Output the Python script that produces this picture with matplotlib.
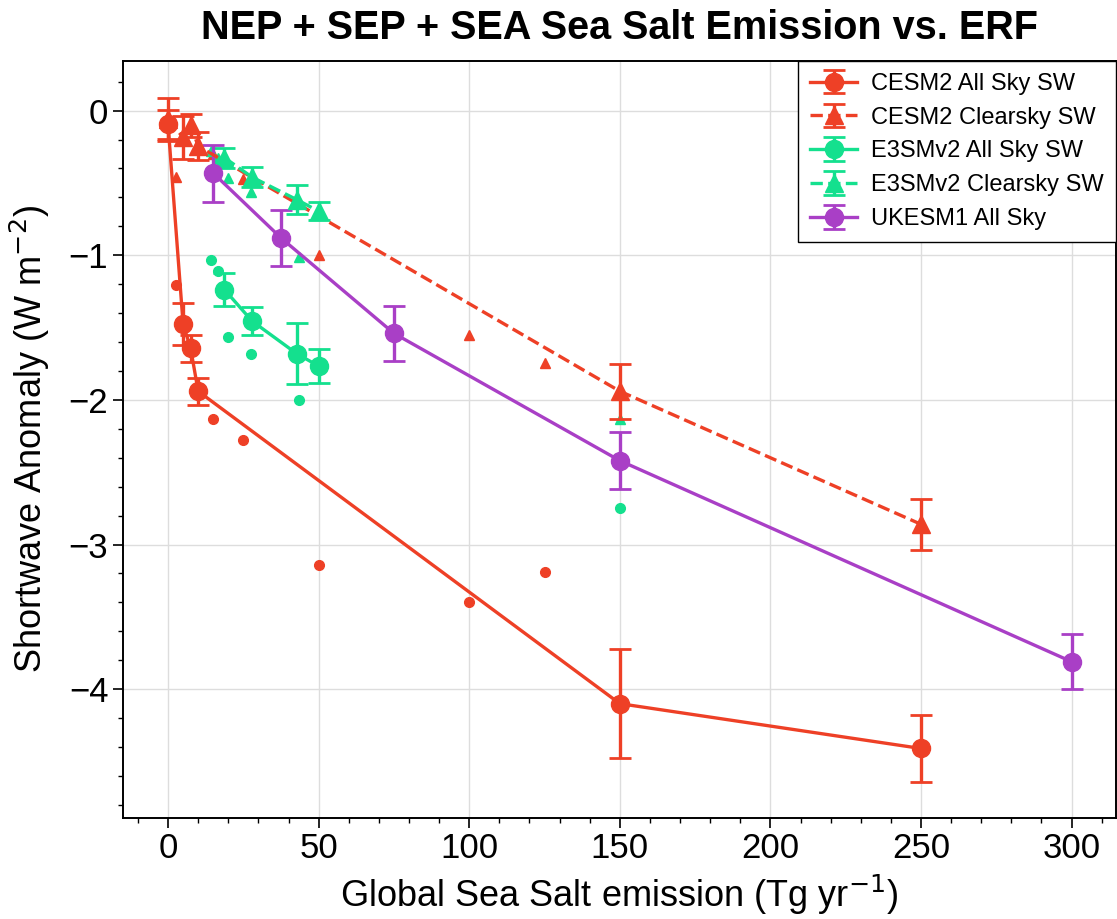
import matplotlib
matplotlib.use("Agg")
import matplotlib.pyplot as plt
from matplotlib.ticker import MultipleLocator

plt.rcParams["font.family"] = ["Liberation Sans", "DejaVu Sans"]

RED = "#EE4026"
GREEN = "#14E08E"
PURPLE = "#A93FC6"

# CESM2 ensemble means (big markers, with error bars)
cesm_x = [0, 5, 7.5, 10, 150, 250]
cesm_all = [-0.095, -1.476, -1.644, -1.94, -4.10, -4.41]
cesm_all_err = [0.10, 0.146, 0.096, 0.093, 0.376, 0.23]
cesm_clr = [-0.06, -0.185, -0.10, -0.245, -1.94, -2.86]
cesm_clr_err = [0.15, 0.15, 0.08, 0.095, 0.19, 0.175]

# CESM2 single runs (small markers)
cesm_pts_x = [2.5, 15, 25, 50, 100, 125]
cesm_pts_all = [-1.207, -2.13, -2.28, -3.14, -3.40, -3.19]
cesm_pts_clr = [-0.46, -0.30, -0.47, -1.00, -1.55, -1.745]

# E3SMv2 ensemble means
e3sm_x = [18.7, 27.9, 42.7, 50]
e3sm_all = [-1.237, -1.455, -1.68, -1.766]
e3sm_all_err = [0.116, 0.097, 0.21, 0.116]
e3sm_clr = [-0.325, -0.46, -0.615, -0.695]
e3sm_clr_err = [0.07, 0.07, 0.10, 0.06]

# E3SMv2 single runs
e3sm_pts_x = [14.2, 16.5, 20, 27.5, 43.5, 150]
e3sm_pts_all = [-1.03, -1.11, -1.563, -1.68, -2.00, -2.745]
e3sm_pts_clr = [-0.276, -0.33, -0.464, -0.563, -1.01, -2.13]

# UKESM1
uk_x = [15, 37.5, 75, 150, 300]
uk_all = [-0.432, -0.88, -1.54, -2.42, -3.81]
uk_all_err = [0.197, 0.195, 0.19, 0.195, 0.19]

fig = plt.figure(figsize=(11.17, 9.19), dpi=100)
ax = fig.add_axes([0.110, 0.110, 0.889, 0.8236])

ekw = dict(linewidth=2.4, markersize=13, capsize=8, capthick=2.0, elinewidth=2.4)

ax.errorbar(cesm_x, cesm_all, yerr=cesm_all_err, color=RED, marker="o",
            linestyle="-", label="CESM2 All Sky SW", zorder=3, **ekw)
ax.errorbar(cesm_x, cesm_clr, yerr=cesm_clr_err, color=RED, marker="^",
            linestyle="--", label="CESM2 Clearsky SW", zorder=3, **ekw)
ax.plot(cesm_pts_x, cesm_pts_all, "o", color=RED, markersize=7, zorder=2)
ax.plot(cesm_pts_x, cesm_pts_clr, "^", color=RED, markersize=7, zorder=2)

ax.errorbar(e3sm_x, e3sm_all, yerr=e3sm_all_err, color=GREEN, marker="o",
            linestyle="-", label="E3SMv2 All Sky SW", zorder=3, **ekw)
ax.errorbar(e3sm_x, e3sm_clr, yerr=e3sm_clr_err, color=GREEN, marker="^",
            linestyle="--", label="E3SMv2 Clearsky SW", zorder=3, **ekw)
ax.plot(e3sm_pts_x, e3sm_pts_all, "o", color=GREEN, markersize=7, zorder=2)
ax.plot(e3sm_pts_x, e3sm_pts_clr, "^", color=GREEN, markersize=7, zorder=2)

ax.errorbar(uk_x, uk_all, yerr=uk_all_err, color=PURPLE, marker="o",
            linestyle="-", label="UKESM1 All Sky", zorder=3, **ekw)

ax.set_xlim(-15, 314.7)
ax.set_ylim(-4.89, 0.343)
ax.xaxis.set_major_locator(MultipleLocator(50))
ax.xaxis.set_minor_locator(MultipleLocator(10))
ax.yaxis.set_major_locator(MultipleLocator(1))
ax.yaxis.set_minor_locator(MultipleLocator(0.2))

ax.grid(which="major", color="#DDDDDD", linewidth=1.0, zorder=0)
ax.set_axisbelow(True)
ax.tick_params(which="major", direction="out", length=7, width=1.2,
               labelsize=25, top=False, right=False)
ax.tick_params(which="minor", direction="out", length=3.5, width=1.0,
               top=False, right=False)
for s in ax.spines.values():
    s.set_linewidth(1.4)

ax.set_xlabel("Global Sea Salt emission (Tg yr$^{-1}$)", fontsize=26, labelpad=5)
ax.set_ylabel("Shortwave Anomaly (W m$^{-2}$)", fontsize=26, labelpad=12)
fig.text(0.555, 0.970, "NEP + SEP + SEA Sea Salt Emission vs. ERF",
         ha="center", va="center", fontsize=28.5, fontweight="bold")

leg = ax.legend(loc="upper right", bbox_to_anchor=(1.0, 1.0), borderaxespad=0,
                fontsize=17, frameon=True, fancybox=False, framealpha=1,
                edgecolor="black", handlelength=2.0, handletextpad=0.6,
                labelspacing=0.5, borderpad=0.5)
leg.get_frame().set_linewidth(1.0)

fig.savefig("out.png", dpi=100)
